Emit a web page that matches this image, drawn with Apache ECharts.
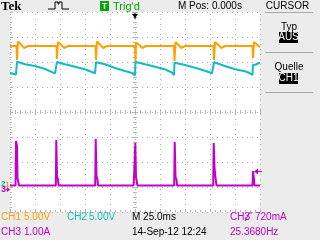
<!DOCTYPE html>
<html><head><meta charset="utf-8">
<script src="https://cdn.jsdelivr.net/npm/echarts@6/dist/echarts.min.js"></script>
<style>html,body{margin:0;padding:0;background:#ececec;}#c{width:320px;height:240px;}</style>
</head><body><div id="c"></div><script>
// ---- data: [time ms, value] ----
const ch1Points = [
[-125,28.2],[-118.5,28.2],[-118,25.4],[-117,29.1],[-115,28.8],[-113,28.3],[-111,27.8],[-109,28.0],[-107,28.2],
[-78.5,28.2],[-78,25.6],[-77,29.0],[-75,28.7],[-73,28.3],[-71,27.8],[-69,28.0],[-67,28.2],
[-39.5,28.2],[-39,25.4],[-38,29.1],[-36,28.7],[-34,28.3],[-32,27.8],[-30,28.0],[-28,28.2],
[0,28.2],[0.5,24.8],[1,28.9],[3,28.6],[5,28.3],[7,27.8],[9,27.9],[11,28.2],
[39,28.2],[39.5,25.2],[40.5,29.0],[42,28.7],[44,28.3],[46,27.8],[48,28.0],[50,28.2],
[78.5,28.2],[79,25.4],[80,29.0],[82,28.7],[84,28.3],[86,27.8],[88,28.0],[90,28.2],
[117.5,28.2],[118,25.8],[119,29.0],[121,28.7],[123,28.3],[125,28.0]
];
const ch2Points = [
[-125,22.8],[-119,22.5],[-118,25.06],[-117,25.0],[-110,24.54],[-100,24.2],[-90,23.6],[-80,22.74],[-79,22.5],
[-78,25.0],[-70,24.54],[-60,24.06],[-50,23.54],[-40,22.74],[-39.5,22.5],
[-39,24.94],[-30,24.54],[-20,23.8],[-10,23.2],[-3,22.8],[0,22.3],
[0.5,25.0],[10,24.54],[20,24.06],[30,23.54],[37,22.86],[39,22.4],
[39.5,24.86],[50,24.4],[60,23.86],[70,23.26],[77,22.74],[78.5,22.6],
[79,24.94],[90,24.2],[100,23.54],[110,23.14],[115,22.74],[117.5,22.4],
[118,24.4],[121,24.5],[121.5,24.86],[125,24.86]
];
const ch3Points = [
[-125,0.06],[-119.5,0.06],[-119,1.84],[-118,1.64],[-117.5,0.36],[-116.5,0.36],[-116,0.06],[-115,0.14],[-114,0.06],
[-79.2,0.06],[-78.7,1.88],[-78,0.44],[-77,0.3],[-76.5,0.06],
[-39.8,0.06],[-39.3,1.92],[-38.5,0.44],[-37.5,0.3],[-37,0.06],
[-1.5,0.06],[-1,0.36],[0,0.36],[0.3,1.77],[1,0.4],[2,0.36],[2.5,0.06],[14.5,0.06],[15,0.14],[15.5,0.06],
[39.2,0.06],[39.7,1.8],[40.5,0.4],[41.5,0.3],[42,0.06],[56.2,0.06],[56.7,0.12],[57.2,0.06],
[78.2,0.06],[78.7,1.76],[79.5,0.8],[80.5,0.36],[81.5,0.06],[101.5,0.06],[102,0.12],[102.5,0.06],
[117.5,0.06],[118,0.64],[119,0.3],[119.5,0.06],[125,0.06]
];
// ---- texts ----
const headerTexts = ["Tek", "Trig'd", "M Pos: 0.000s", "CURSOR"];
const menuTexts = ["Typ", "AUS", "Quelle", "CH1"];
const ch1Label = ["CH1", "5.00V"];
const ch2Label = ["CH2", "5.00V"];
const ch3Label = ["CH3", "1.00A"];
const timebaseText = "M 25.0ms";
const dateText = "14-Sep-12 12:24";
const trigText = ["CH3", "720mA"];
const freqText = "25.3680Hz";

const ORANGE = '#ffa000', TEAL = '#12bcc2', PURPLE = '#c400c8', GREEN = '#00a800';
const F = '10px "Liberation Sans"';
const TICK = '#b4b4b4';

function txt(x, y, s, color, font, align) {
  align = align || 'left';
  return {type: 'text', silent: true, z: 100,
    style: {x: x, y: y, text: s, fill: color, font: font || F,
      textAlign: align, align: align, textVerticalAlign: 'middle', verticalAlign: 'middle'}};
}
function box(x, y, w, h, color) {
  return {type: 'rect', silent: true, z: 99, shape: {x: x, y: y, width: w, height: h}, style: {fill: color}};
}
function hline(x1, x2, y, color) {
  return {type: 'line', silent: true, z: 99, shape: {x1: x1, y1: y, x2: x2, y2: y}, style: {stroke: color, lineWidth: 1}};
}
function poly(points, color, fill) {
  return fill
    ? {type: 'polygon', silent: true, z: 100, shape: {points: points}, style: {fill: color}}
    : {type: 'polyline', silent: true, z: 100, shape: {points: points}, style: {stroke: color, lineWidth: 1, fill: null}};
}

function tickAxis(extra) {
  return Object.assign({
    type: 'value', min: -125, max: 125, interval: 25,
    axisLabel: {show: false}, axisLine: {show: false}, splitLine: {show: false},
    axisTick: {show: true, inside: true, length: 2, lineStyle: {color: TICK}},
    minorTick: {show: true, splitNumber: 5, length: 2, lineStyle: {color: TICK}}
  }, extra);
}
function tickYAxis(extra) {
  return Object.assign({
    type: 'value', min: -4, max: 4, interval: 1,
    axisLabel: {show: false}, axisLine: {show: false}, splitLine: {show: false},
    axisTick: {show: true, inside: true, length: 2, lineStyle: {color: TICK}},
    minorTick: {show: true, splitNumber: 5, length: 2, lineStyle: {color: TICK}}
  }, extra);
}
const dotted = {show: true, lineStyle: {color: '#b0b0b0', width: 1, type: [1, 4], dashOffset: 3}};

const chart = echarts.init(document.getElementById('c'), null, {renderer: 'canvas'});
chart.setOption({
  animation: false,
  backgroundColor: '#ececec',
  grid: {left: 10, top: 12, width: 250, height: 200, show: true, backgroundColor: '#ffffff', borderWidth: 0},
  xAxis: [
    tickAxis({position: 'bottom', axisLine: {show: false, onZero: false}, splitLine: dotted}),
    tickAxis({position: 'top'}),
    tickAxis({position: 'top', offset: -100}),
    tickAxis({position: 'top', offset: -100, axisTick: {show: true, inside: false, length: 2, lineStyle: {color: TICK}},
      minorTick: {show: true, splitNumber: 5, length: 2, lineStyle: {color: TICK}}})
  ],
  yAxis: [
    tickYAxis({position: 'left', axisLine: {show: false, onZero: false}, splitLine: dotted}),
    tickYAxis({position: 'right'}),
    tickYAxis({position: 'left', offset: -125}),
    tickYAxis({position: 'left', offset: -125, axisTick: {show: true, inside: false, length: 2, lineStyle: {color: TICK}},
      minorTick: {show: true, splitNumber: 5, length: 2, lineStyle: {color: TICK}}}),
    {type: 'value', min: -5, max: 35, show: false},
    {type: 'value', min: -5, max: 35, show: false},
    {type: 'value', min: -1, max: 7, show: false}
  ],
  series: [
    {type: 'line', xAxisIndex: 0, yAxisIndex: 4, data: ch1Points, symbol: 'none', lineStyle: {color: ORANGE, width: 2}, z: 3},
    {type: 'line', xAxisIndex: 0, yAxisIndex: 5, data: ch2Points, symbol: 'none', lineStyle: {color: TEAL, width: 2}, z: 3},
    {type: 'line', xAxisIndex: 0, yAxisIndex: 6, data: ch3Points, symbol: 'none', lineStyle: {color: PURPLE, width: 2}, z: 4}
  ],
  graphic: [
    // header
    txt(1, 6.5, headerTexts[0], '#000', 'bold 13px "Liberation Serif"'),
    poly([[48, 9], [55, 9], [55, 2], [58, 2], [58, 4], [59, 4], [59, 2], [62, 2], [62, 9], [69, 9]], '#000'),
    box(100, 1, 9, 10, GREEN),
    txt(104.5, 6.5, 'T', '#fff', 'bold 9px "Liberation Sans"', 'center'),
    txt(113, 6.5, headerTexts[1], GREEN, '11px "Liberation Sans"'),
    txt(178, 6.5, headerTexts[2], '#000', F),
    txt(287.5, 6.5, headerTexts[3], '#000', F, 'center'),
    // right menu
    hline(265, 313, 12.5, '#a8a8a8'),
    txt(289, 27, menuTexts[0], '#000', F, 'center'),
    box(279, 32, 19, 11, '#000'),
    txt(288.5, 37.5, menuTexts[1], '#fff', F, 'center'),
    hline(265, 313, 52.5, '#a8a8a8'),
    txt(289, 67, menuTexts[2], '#000', F, 'center'),
    box(279, 73, 19, 11, '#000'),
    txt(288.5, 78.5, menuTexts[3], '#fff', F, 'center'),
    hline(265, 313, 92.5, '#a8a8a8'),
    // markers
    poly([[132, 14], [138, 14], [135, 18]], '#000', true),
    poly([[135, 13], [135, 19]], '#000'),
    txt(1, 184, '2', TEAL, 'bold 8px "Liberation Sans"'),
    txt(5, 185, '1', ORANGE, 'bold 8px "Liberation Sans"'),
    txt(1, 189.5, '3', PURPLE, 'bold 9px "Liberation Sans"'),
    poly([[6, 189.5], [9, 189.5]], PURPLE),
    poly([[7, 187], [10, 189.5], [7, 192]], PURPLE, true),
    poly([[254, 171.5], [258, 168.5], [258, 174.5]], PURPLE, true),
    poly([[257, 171.5], [262, 171.5]], PURPLE),
    // bottom status
    txt(1, 217.5, ch1Label[0], ORANGE), txt(24, 217.5, ch1Label[1], ORANGE),
    txt(67, 217.5, ch2Label[0], TEAL), txt(89, 217.5, ch2Label[1], TEAL),
    txt(132, 217.5, timebaseText, '#000'),
    txt(230, 217.5, trigText[0], PURPLE),
    poly([[245, 221], [249, 213], [252, 213]], PURPLE),
    txt(255, 217.5, trigText[1], PURPLE),
    txt(1, 232.5, ch3Label[0], PURPLE), txt(24, 232.5, ch3Label[1], PURPLE),
    txt(132, 232.5, dateText, '#000'),
    txt(230, 232.5, freqText, PURPLE)
  ]
});
</script></body></html>
